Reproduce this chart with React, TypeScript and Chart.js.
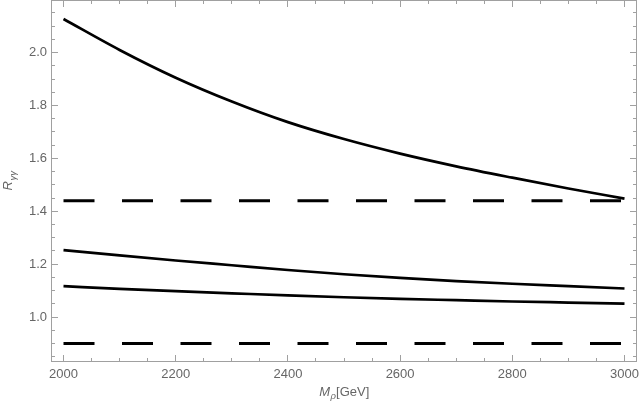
import React, { useEffect, useRef } from "react";
import { Chart, registerables } from "chart.js";

Chart.register(...registerables);

// ---- data ----
const massGeV = [2000, 2100, 2200, 2300, 2400, 2500, 2600, 2700, 2800, 2900, 3000];
const rUpper = [2.127, 2.010, 1.905, 1.815, 1.737, 1.673, 1.618, 1.570, 1.527, 1.486, 1.448];
const rMiddle = [1.253, 1.233, 1.214, 1.196, 1.178, 1.162, 1.148, 1.136, 1.126, 1.117, 1.108];
const rLower = [1.117, 1.107, 1.098, 1.090, 1.082, 1.075, 1.069, 1.064, 1.059, 1.055, 1.051];
const boundX = [2000, 3000];
const boundHigh = [1.44, 1.44];
const boundLow = [0.9, 0.9];
const xTickLabels = [2000, 2200, 2400, 2600, 2800, 3000];
const yTickLabels = [1.0, 1.2, 1.4, 1.6, 1.8, 2.0];

const FRAME = "#a0a0a0";
const TEXT = "#666666";
const FONT = "'Liberation Sans', Arial, sans-serif";

type Part = { t: string; italic?: boolean; sub?: boolean };

function drawRich(ctx: CanvasRenderingContext2D, parts: Part[], cx: number, baseY: number) {
  const main = 13;
  const sub = 9.5;
  const fontFor = (p: Part) => `${p.italic ? "italic " : ""}${p.sub ? sub : main}px ${FONT}`;
  let total = 0;
  const widths = parts.map((p) => {
    ctx.font = fontFor(p);
    const w = ctx.measureText(p.t).width;
    total += w;
    return w;
  });
  let x = cx - total / 2;
  ctx.textAlign = "left";
  ctx.textBaseline = "alphabetic";
  ctx.fillStyle = TEXT;
  parts.forEach((p, i) => {
    ctx.font = fontFor(p);
    ctx.fillText(p.t, x, baseY + (p.sub ? 3.5 : 0));
    x += widths[i] + (p.italic && !p.sub ? 0.5 : 0);
  });
}

const framePlugin = {
  id: "mmaFrame",
  afterDatasetsDraw(chart: any) {
    const { ctx, chartArea: a, scales } = chart;
    const xs = scales.x;
    const ys = scales.y;
    ctx.save();
    ctx.strokeStyle = FRAME;
    ctx.lineWidth = 1;
    ctx.strokeRect(a.left - 0.5, a.top - 0.5, a.right - a.left + 1, a.bottom - a.top + 1);
    const major = 6;
    const minor = 3;
    ctx.beginPath();
    for (let k = 40; k <= 60; k++) {
      const v = k * 50;
      const px = Math.floor(xs.getPixelForValue(v)) + 0.5;
      const len = k % 4 === 0 ? major : minor;
      ctx.moveTo(px, a.bottom);
      ctx.lineTo(px, a.bottom - len);
      ctx.moveTo(px, a.top);
      ctx.lineTo(px, a.top + len);
    }
    for (let k = 17; k <= 43; k++) {
      const v = k * 0.05;
      const py = Math.floor(ys.getPixelForValue(v)) + 0.5;
      const len = k % 4 === 0 ? major : minor;
      ctx.moveTo(a.left, py);
      ctx.lineTo(a.left + len, py);
      ctx.moveTo(a.right, py);
      ctx.lineTo(a.right - len, py);
    }
    ctx.stroke();

    // axis titles
    drawRich(
      ctx,
      [{ t: "M", italic: true }, { t: "ρ", italic: true, sub: true }, { t: "[GeV]" }],
      (a.left + a.right) / 2,
      395.5
    );
    ctx.save();
    ctx.translate(12, (a.top + a.bottom) / 2);
    ctx.rotate(-Math.PI / 2);
    drawRich(ctx, [{ t: "R", italic: true }, { t: "γγ", italic: true, sub: true }], 0, 0);
    ctx.restore();
    ctx.restore();
  },
};

function pts(xv: number[], yv: number[]) {
  return xv.map((x, i) => ({ x, y: yv[i] }));
}

export default function App() {
  const ref = useRef<HTMLCanvasElement | null>(null);
  useEffect(() => {
    if (!ref.current) return;
    const curve = (data: any) => ({
      data,
      borderColor: "#000000",
      borderWidth: 2.7,
      pointRadius: 0,
      cubicInterpolationMode: "monotone" as const,
      fill: false,
    });
    const dashed = (data: any) => ({
      data,
      borderColor: "#000000",
      borderWidth: 3,
      borderDash: [31, 27.5],
      borderCapStyle: "butt" as const,
      pointRadius: 0,
      fill: false,
    });
    const chart = new Chart(ref.current, {
      type: "line",
      data: {
        datasets: [
          curve(pts(massGeV, rUpper)),
          curve(pts(massGeV, rMiddle)),
          curve(pts(massGeV, rLower)),
          dashed(pts(boundX, boundHigh)),
          dashed(pts(boundX, boundLow)),
        ],
      },
      options: {
        responsive: false,
        animation: false,
        devicePixelRatio: 1,
        layout: { padding: { left: 0, right: 5, top: 1, bottom: 0 } },
        plugins: { legend: { display: false }, tooltip: { enabled: false } },
        scales: {
          x: {
            type: "linear",
            min: 1979.5,
            max: 3020.5,
            grid: { display: false, drawTicks: false },
            border: { display: false },
            afterFit: (s: any) => {
              s.height = 52;
              s.paddingLeft = 0;
              s.paddingRight = 0;
            },
            afterBuildTicks: (s: any) => {
              s.ticks = xTickLabels.map((v) => ({ value: v }));
            },
            ticks: {
              color: TEXT,
              padding: 6,
              maxRotation: 0,
              autoSkip: false,
              font: { family: FONT, size: 13 },
              callback: (v: any) => String(v),
            },
          },
          y: {
            type: "linear",
            min: 0.834,
            max: 2.195,
            grid: { display: false, drawTicks: false },
            border: { display: false },
            afterFit: (s: any) => {
              s.width = 52;
              s.paddingTop = 0;
              s.paddingBottom = 0;
            },
            afterBuildTicks: (s: any) => {
              s.ticks = yTickLabels.map((v) => ({ value: v }));
            },
            ticks: {
              color: TEXT,
              padding: 5,
              autoSkip: false,
              font: { family: FONT, size: 13 },
              callback: (v: any) => Number(v).toFixed(1),
            },
          },
        },
      },
      plugins: [framePlugin],
    });
    return () => chart.destroy();
  }, []);
  return (
    <div style={{ position: "absolute", left: 0, top: 0, width: 641, height: 413, background: "#fff" }}>
      <canvas ref={ref} width={641} height={413} style={{ width: 641, height: 413, display: "block" }} />
    </div>
  );
}
